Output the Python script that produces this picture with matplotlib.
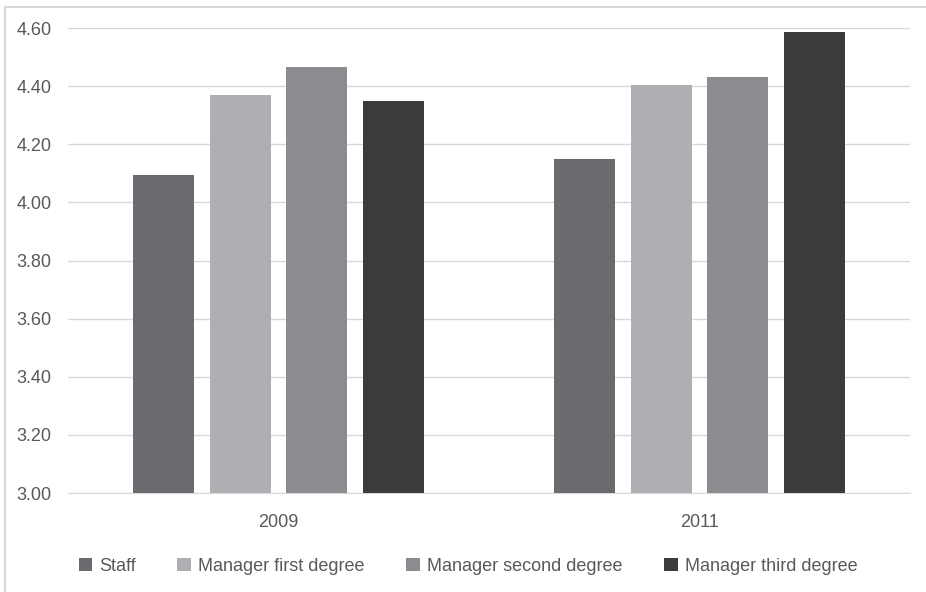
import numpy as np
import matplotlib.pyplot as plt
from matplotlib.lines import Line2D

years = ['2009', '2011']
series = ['Staff', 'Manager first degree', 'Manager second degree', 'Manager third degree']
staff = [4.095, 4.15]
first_degree = [4.37, 4.405]
second_degree = [4.465, 4.43]
third_degree = [4.35, 4.585]
colors = ['#6b6b6f', '#aeafb2', '#8b8c90', '#3b3b3b']

plt.rcParams['font.family'] = ['Liberation Sans', 'DejaVu Sans']

fig = plt.figure(figsize=(9.26, 5.92), dpi=100)
ax = fig.add_axes([68 / 926, 1 - 493 / 592, 842 / 926, 465 / 592])

# outer chart frame (top and left edges visible)
fig.add_artist(Line2D([5 / 926, 1], [1 - 7 / 592, 1 - 7 / 592], color='#d9d9d9', lw=1.5))
fig.add_artist(Line2D([5 / 926, 5 / 926], [0, 1 - 7 / 592], color='#d9d9d9', lw=1.5))

x = np.arange(len(years))
width = 0.145
step = 0.182
for i, (vals, name) in enumerate(zip([staff, first_degree, second_degree, third_degree], series)):
    ax.bar(x + (i - 1.5) * step, vals, width, color=colors[i], label=name, zorder=3)

ax.set_xlim(-0.5, 1.5)
ax.set_ylim(3.0, 4.6)
ax.set_yticks(np.arange(3.0, 4.61, 0.2))
ax.set_yticklabels([f'{v:.2f}' for v in np.arange(3.0, 4.61, 0.2)])
ax.set_xticks(x)
ax.set_xticklabels(years)
ax.yaxis.grid(True, color='#d9d9d9', lw=1)
ax.set_axisbelow(True)
for s in ['top', 'right', 'left']:
    ax.spines[s].set_visible(False)
ax.spines['bottom'].set_color('#d9d9d9')
ax.tick_params(axis='both', length=0, colors='#595959', labelsize=13)
ax.tick_params(axis='y', pad=12)
ax.tick_params(axis='x', pad=15)

ax.legend(loc='upper center', bbox_to_anchor=(0.475, -0.105), ncol=4, frameon=False,
          fontsize=13, labelcolor='#595959', handlelength=0.75, handleheight=0.75,
          handletextpad=0.4, columnspacing=2.3)

fig.savefig('out.png', dpi=100)
